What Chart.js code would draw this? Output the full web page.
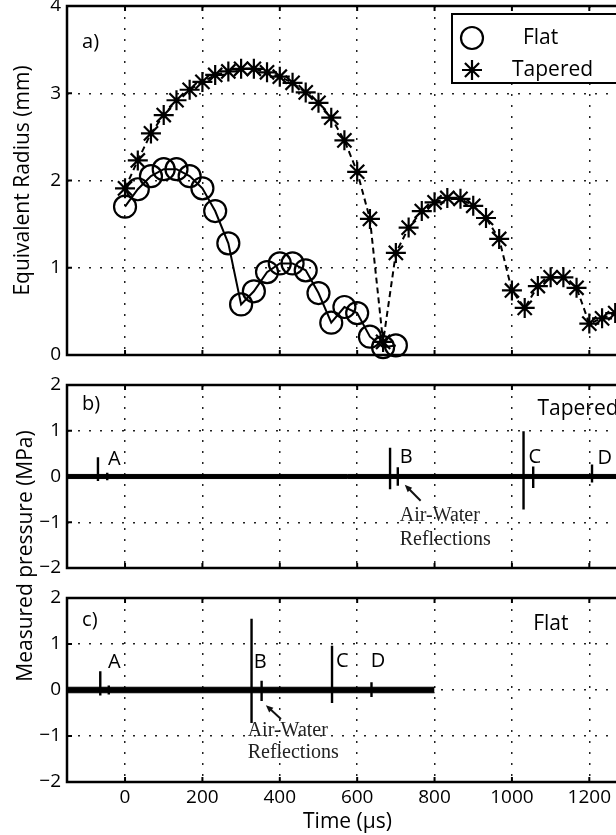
<!DOCTYPE html>
<html>
<head>
<meta charset="utf-8">
<title>Bubble radius and measured pressure</title>
<script src="https://cdn.jsdelivr.net/npm/chart.js@4.4.1/dist/chart.umd.min.js"></script>
<style>
  html, body { margin: 0; padding: 0; background: #fff; }
  body { position: relative; width: 616px; height: 835px; overflow: hidden; }
  canvas { position: absolute; left: 0; }
  #pressureTitle {
    position: absolute; left: -127px; top: 543px; width: 300px; height: 26px;
    line-height: 26px; text-align: center; transform: rotate(-90deg);
    font: 21px 'Open Sans', sans-serif; color: #000; white-space: nowrap;
  }
</style>
</head>
<body>
<canvas id="radiusChart" width="640" height="370" style="top:0"></canvas>
<canvas id="taperedChart" width="640" height="205" style="top:375px"></canvas>
<canvas id="flatChart" width="640" height="247" style="top:588px"></canvas>
<div id="pressureTitle">Measured pressure (MPa)</div>
<script>
const FONT = "'Open Sans', sans-serif";
const SERIF = "'Liberation Serif', 'DejaVu Serif', serif";
Chart.defaults.font.family = FONT;
Chart.defaults.color = '#000';

// tick values
const timeTickValues = [0, 200, 400, 600, 800, 1000, 1200];
const radiusTickValues = [0, 1, 2, 3, 4];
const pressureTickValues = [-2, -1, 0, 1, 2];

// a) equivalent radius (mm), one frame every 33.3 us
const flatTimes = [0, 33, 67, 100, 133, 167, 200, 233, 267, 300, 333, 367, 400, 433, 467, 500, 533, 567, 600, 633, 667, 700];
const flatRadius = [1.70, 1.90, 2.05, 2.13, 2.13, 2.05, 1.91, 1.65, 1.28, 0.58, 0.73, 0.95, 1.05, 1.05, 0.97, 0.71, 0.37, 0.55, 0.48, 0.21, 0.09, 0.11];
const taperedTimes = [0, 33, 67, 100, 133, 167, 200, 233, 267, 300, 333, 367, 400, 433, 467, 500, 533, 567, 600, 633,
  667, 700, 733, 767, 800, 833, 867, 900, 933, 967, 1000, 1033, 1067, 1100, 1133, 1167, 1200, 1233, 1267];
const taperedRadius = [1.91, 2.23, 2.54, 2.75, 2.92, 3.04, 3.13, 3.21, 3.25, 3.28, 3.28, 3.24, 3.19, 3.12, 3.01, 2.89, 2.72, 2.46, 2.10, 1.56,
  0.15, 1.17, 1.46, 1.65, 1.75, 1.80, 1.79, 1.71, 1.57, 1.33, 0.74, 0.54, 0.79, 0.89, 0.89, 0.77, 0.36, 0.42, 0.48];

// b) hydrophone trace, tapered tube: noise half-width and spikes (MPa)
const taperedTraceSpan = [-150, 1300];
const taperedNoise = 0.045;
const taperedSpikeTimes = [-70, -46, 685, 705, 1030, 1055, 1207];
const taperedSpikePeaks = [0.42, 0.08, 0.63, 0.20, 0.99, 0.22, 0.26];
const taperedSpikeTroughs = [-0.10, -0.08, -0.28, -0.20, -0.72, -0.25, -0.13];

// c) hydrophone trace, flat tube
const flatTraceSpan = [-150, 800];
const flatNoise = 0.06;
const flatSpikeTimes = [-64, -42, 327, 353, 535, 637];
const flatSpikePeaks = [0.41, 0.10, 1.55, 0.20, 0.96, 0.17];
const flatSpikeTroughs = [-0.12, -0.10, -0.72, -0.24, -0.28, -0.15];

const points = (xs, ys) => xs.map((x, i) => ({ x: x, y: ys[i] }));
const minus = v => (v < 0 ? '\u2212' + Math.abs(v) : String(v));

// box around the axes with short inward ticks
const framePlugin = {
  id: 'frame',
  afterDraw(chart) {
    const { ctx, chartArea: a, scales: { x, y } } = chart;
    ctx.save();
    ctx.strokeStyle = '#000';
    ctx.lineWidth = 2;
    ctx.beginPath();
    x.ticks.forEach(t => {
      const px = x.getPixelForValue(t.value);
      ctx.moveTo(px, a.bottom); ctx.lineTo(px, a.bottom - 5);
      ctx.moveTo(px, a.top); ctx.lineTo(px, a.top + 5);
    });
    y.ticks.forEach(t => {
      const py = y.getPixelForValue(t.value);
      ctx.moveTo(a.left, py); ctx.lineTo(a.left + 5, py);
      ctx.moveTo(a.right, py); ctx.lineTo(a.right - 5, py);
    });
    ctx.stroke();
    ctx.lineWidth = 2.5;
    ctx.strokeRect(a.left, a.top, a.right - a.left, a.bottom - a.top);
    ctx.restore();
  }
};

// text labels and arrows placed in data units
const notesPlugin = {
  id: 'notes',
  afterDatasetsDraw(chart, args, opts) {
    const { ctx, scales: { x, y } } = chart;
    ctx.save();
    ctx.textAlign = 'left';
    ctx.textBaseline = 'middle';
    (opts.labels || []).forEach(n => {
      ctx.font = n.font || ('20px ' + FONT);
      ctx.fillStyle = n.color || '#000';
      ctx.fillText(n.text, x.getPixelForValue(n.x), y.getPixelForValue(n.y));
    });
    (opts.arrows || []).forEach(ar => {
      const x0 = x.getPixelForValue(ar.from[0]), y0 = y.getPixelForValue(ar.from[1]);
      const x1 = x.getPixelForValue(ar.to[0]), y1 = y.getPixelForValue(ar.to[1]);
      const ang = Math.atan2(y1 - y0, x1 - x0);
      ctx.strokeStyle = '#111';
      ctx.fillStyle = '#111';
      ctx.lineWidth = 2;
      ctx.beginPath();
      ctx.moveTo(x0, y0);
      ctx.lineTo(x1 - 5 * Math.cos(ang), y1 - 5 * Math.sin(ang));
      ctx.stroke();
      ctx.beginPath();
      ctx.moveTo(x1, y1);
      ctx.lineTo(x1 - 8 * Math.cos(ang - 0.4), y1 - 8 * Math.sin(ang - 0.4));
      ctx.lineTo(x1 - 8 * Math.cos(ang + 0.4), y1 - 8 * Math.sin(ang + 0.4));
      ctx.closePath();
      ctx.fill();
    });
    ctx.restore();
  }
};

// framed legend in the upper right corner of panel a
const boxLegendPlugin = {
  id: 'boxLegend',
  afterDraw(chart, args, opts) {
    const { ctx, chartArea: a } = chart;
    const right = a.right - 5, top = a.top + 8;
    const left = right - opts.width;
    ctx.save();
    ctx.fillStyle = '#fff';
    ctx.fillRect(left, top, opts.width, opts.height);
    ctx.strokeStyle = '#000';
    ctx.lineWidth = 2;
    ctx.strokeRect(left, top, opts.width, opts.height);
    chart.data.datasets.forEach((ds, i) => {
      const cy = top + 24 + i * 32;
      ctx.fillStyle = 'rgba(0,0,0,0)';
      ctx.strokeStyle = '#000';
      ctx.lineWidth = ds.pointBorderWidth;
      Chart.helpers.drawPoint(ctx, { pointStyle: ds.pointStyle, radius: ds.pointRadius, borderWidth: ds.pointBorderWidth, rotation: 0 }, left + 20, cy);
      ctx.fillStyle = '#000';
      ctx.font = '21px ' + FONT;
      ctx.textAlign = 'left';
      ctx.textBaseline = 'middle';
      ctx.fillText(ds.label, left + 60, cy);
    });
    ctx.restore();
  }
};

function axes(o) {
  return {
    x: {
      type: 'linear', min: -150, max: 1300,
      afterBuildTicks: s => { s.ticks = timeTickValues.map(v => ({ value: v })); },
      afterFit: s => { s.height = o.xHeight; s.paddingLeft = 0; s.paddingRight = 0; },
      grid: { color: '#222', lineWidth: 1.5, drawTicks: false },
      border: { display: false, dash: [2, 9] },
      ticks: { display: !!o.showTime, padding: 4, color: '#000', font: { size: 19 }, callback: v => String(v) },
      title: { display: !!o.showTime, text: 'Time (\u03bcs)', color: '#000', font: { size: 21 }, padding: { top: 0, bottom: 0 } }
    },
    y: {
      type: 'linear', min: o.yTicks[0], max: o.yTicks[o.yTicks.length - 1],
      afterBuildTicks: s => { s.ticks = o.yTicks.map(v => ({ value: v })); },
      afterFit: s => { s.width = 67; s.paddingTop = 0; s.paddingBottom = 0; },
      grid: { color: '#222', lineWidth: 1.5, drawTicks: false },
      border: { display: false, dash: [2, 9] },
      ticks: { padding: 6, color: '#000', font: { size: 19 }, callback: minus },
      title: { display: !!o.yTitle, text: o.yTitle || '', color: '#000', font: { size: 21 }, padding: { top: 10, bottom: 0 } }
    }
  };
}

function baseOptions(o, plugins) {
  return {
    responsive: false,
    animation: false,
    devicePixelRatio: 1,
    layout: { autoPadding: false, padding: { top: o.padTop, right: 12, left: 0, bottom: 0 } },
    scales: axes(o),
    plugins: Object.assign({ legend: { display: false }, tooltip: { enabled: false } }, plugins)
  };
}

function traceDatasets(span, noise, times, peaks, troughs) {
  const spikes = [];
  times.forEach((t, i) => {
    spikes.push({ x: t, y: 0 }, { x: t, y: peaks[i] }, { x: t, y: troughs[i] }, { x: t, y: 0 }, { x: t, y: null });
  });
  return [
    { data: spikes, borderColor: '#000', borderWidth: 2.4, pointRadius: 0, spanGaps: false },
    { data: span.map(t => ({ x: t, y: noise })), borderColor: '#000', borderWidth: 1, pointRadius: 0, backgroundColor: '#000', fill: '+1' },
    { data: span.map(t => ({ x: t, y: -noise })), borderColor: '#000', borderWidth: 1, pointRadius: 0, fill: false }
  ];
}

const noteFont = '20px ' + FONT;
const nameFont = '21px ' + FONT;
const serifFont = '20px ' + SERIF;

new Chart(document.getElementById('radiusChart'), {
  type: 'line',
  data: {
    datasets: [
      {
        label: '  Flat', data: points(flatTimes, flatRadius), order: 1,
        borderColor: '#000', borderWidth: 2, tension: 0, clip: false,
        pointStyle: 'circle', pointRadius: 11, pointBorderWidth: 2.2,
        pointBorderColor: '#000', pointBackgroundColor: 'rgba(0,0,0,0)'
      },
      {
        label: 'Tapered', data: points(taperedTimes, taperedRadius), order: 0,
        borderColor: '#000', borderWidth: 2, borderDash: [6, 4], tension: 0, clip: false,
        pointStyle: 'star', pointRadius: 10, pointBorderWidth: 2.2,
        pointBorderColor: '#000', pointBackgroundColor: 'rgba(0,0,0,0)'
      }
    ]
  },
  options: baseOptions(
    { yTicks: radiusTickValues, yTitle: 'Equivalent Radius (mm)', xHeight: 15, padTop: 6 },
    {
      notes: { labels: [{ text: 'a)', x: -111, y: 3.58, font: noteFont }] },
      boxLegend: { width: 171, height: 69 }
    }
  ),
  plugins: [framePlugin, notesPlugin, boxLegendPlugin]
});

new Chart(document.getElementById('taperedChart'), {
  type: 'line',
  data: { datasets: traceDatasets(taperedTraceSpan, taperedNoise, taperedSpikeTimes, taperedSpikePeaks, taperedSpikeTroughs) },
  options: baseOptions(
    { yTicks: pressureTickValues, xHeight: 12, padTop: 10 },
    {
      notes: {
        labels: [
          { text: 'b)', x: -111, y: 1.58, font: noteFont },
          { text: 'A', x: -44, y: 0.37, font: noteFont },
          { text: 'B', x: 710, y: 0.43, font: noteFont },
          { text: 'C', x: 1043, y: 0.43, font: noteFont },
          { text: 'D', x: 1221, y: 0.40, font: noteFont },
          { text: 'Tapered', x: 1066, y: 1.47, font: nameFont },
          { text: 'Air-Water', x: 710, y: -0.85, font: serifFont, color: '#222' },
          { text: 'Reflections', x: 710, y: -1.38, font: serifFont, color: '#222' }
        ],
        arrows: [{ from: [764, -0.53], to: [723, -0.18] }]
      }
    }
  ),
  plugins: [framePlugin, notesPlugin]
});

new Chart(document.getElementById('flatChart'), {
  type: 'line',
  data: { datasets: traceDatasets(flatTraceSpan, flatNoise, flatSpikeTimes, flatSpikePeaks, flatSpikeTroughs) },
  options: baseOptions(
    { yTicks: pressureTickValues, xHeight: 53, padTop: 10, showTime: true },
    {
      notes: {
        labels: [
          { text: 'c)', x: -111, y: 1.52, font: noteFont },
          { text: 'A', x: -44, y: 0.60, font: noteFont },
          { text: 'B', x: 333, y: 0.60, font: noteFont },
          { text: 'C', x: 545, y: 0.63, font: noteFont },
          { text: 'D', x: 635, y: 0.63, font: noteFont },
          { text: 'Flat', x: 1055, y: 1.43, font: nameFont },
          { text: 'Air-Water', x: 317, y: -0.89, font: serifFont, color: '#222' },
          { text: 'Reflections', x: 317, y: -1.37, font: serifFont, color: '#222' }
        ],
        arrows: [{ from: [403, -0.63], to: [364, -0.33] }]
      }
    }
  ),
  plugins: [framePlugin, notesPlugin]
});
</script>
</body>
</html>
